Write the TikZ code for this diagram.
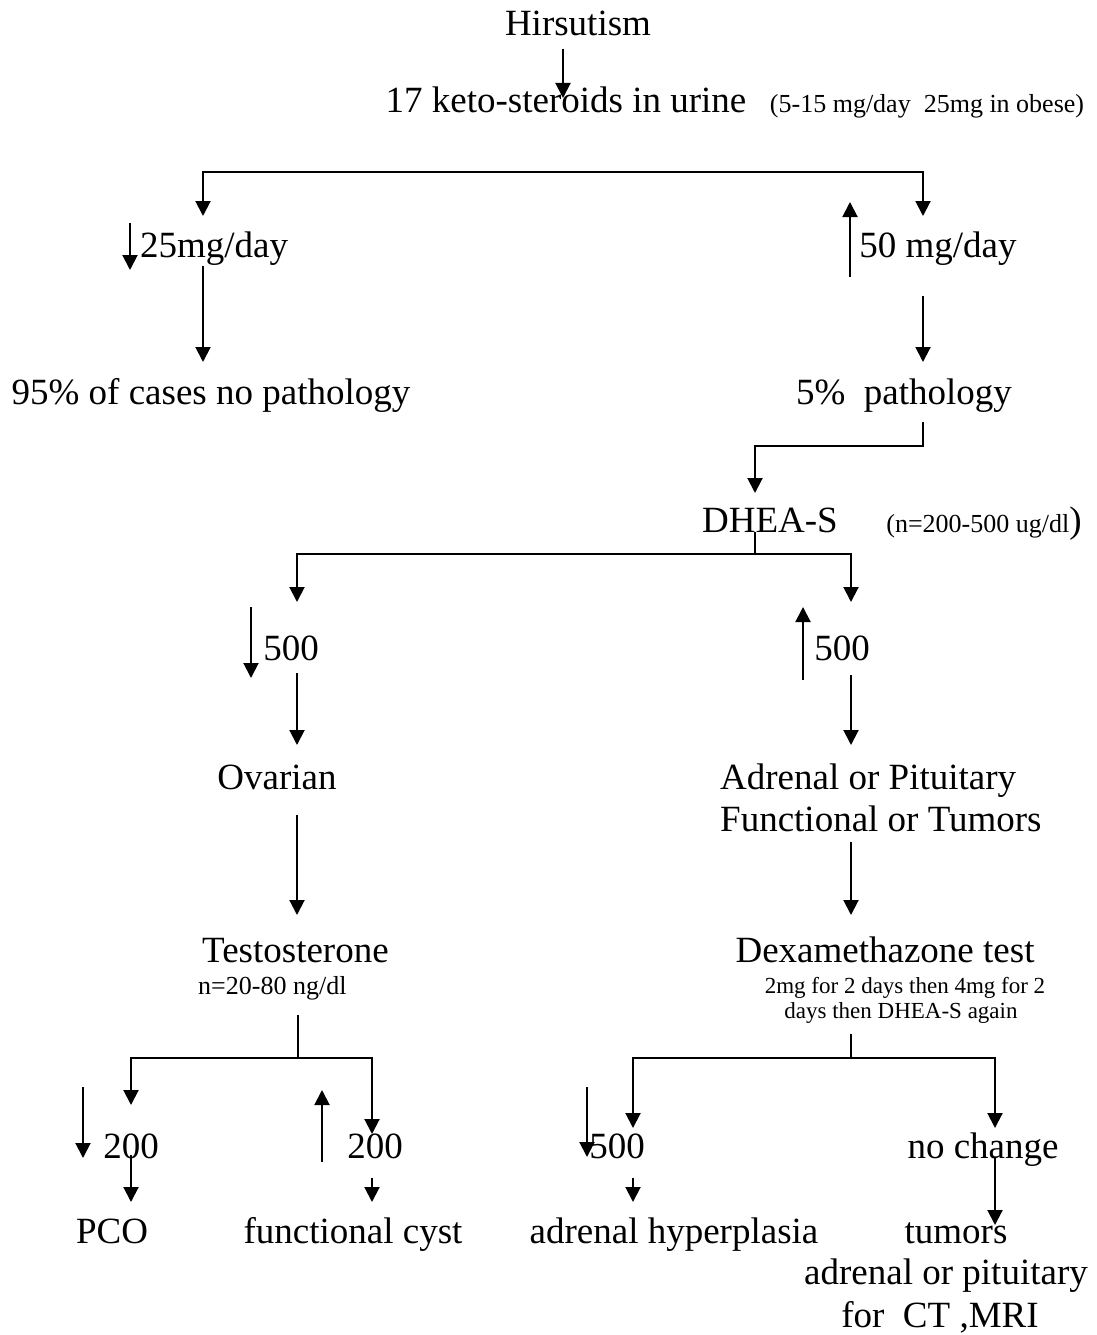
\documentclass[tikz,border=0pt]{standalone}
\usepackage{fontspec}
\setmainfont{Liberation Serif}
\usetikzlibrary{arrows.meta}
\begin{document}
\begin{tikzpicture}[x=1pt,y=-1pt,
  big/.style={font=\fontsize{37}{42}\selectfont, inner sep=0pt, anchor=base},
  small/.style={font=\fontsize{26}{30}\selectfont, inner sep=0pt, anchor=base},
  smaller/.style={font=\fontsize{23}{27}\selectfont, inner sep=0pt, anchor=base},
  ln/.style={line width=2pt},
  arr/.style={line width=2pt, -{Triangle[width=15pt,length=15pt]}},
  barr/.style={line width=2pt, {Triangle[width=15pt,length=15pt]}-{Triangle[width=15pt,length=15pt]}}]
\useasboundingbox (0,0) rectangle (1096,1335);
% texts
\node[big] (hir) at (578,36) {Hirsutism};
\node[big] (k17) at (566,113) {17 keto-steroids in urine};
\node[small] (k17n) at (927,113) {(5-15 mg/day\ \ 25mg in obese)};
\node[big] (lo25) at (214,257) {25mg/day};
\node[big] (hi50) at (938,257) {50 mg/day};
\node[big] (nopath) at (211,404) {95\% of cases no pathology};
\node[big] (path) at (904,404) {5\%\ \ pathology};
\node[big] (dhea) at (770,532) {DHEA-S};
\node[small] (dhean) at (984,532) {(n=200-500 ug/dl{\fontsize{37}{42}\selectfont)}};
\node[big] (lo500) at (291,660) {500};
\node[big] (hi500) at (842,660) {500};
\node[big] (ov) at (277,789) {Ovarian};
\node[big, anchor=base west] (adr1) at (720,789) {Adrenal or Pituitary};
\node[big, anchor=base west] (adr2) at (720,831) {Functional or Tumors};
\node[big, anchor=base west] (test) at (202,962) {Testosterone};
\node[small, anchor=base west] (testn) at (198,994) {n=20-80 ng/dl};
\node[big] (dexa) at (885,962) {Dexamethazone test};
\node[smaller] (dexa2) at (905,993) {2mg for 2 days then 4mg for 2};
\node[smaller] (dexa3) at (901,1018) {days then DHEA-S again};
\node[big] (lo200) at (131,1158) {200};
\node[big] (hi200) at (375,1158) {200};
\node[big] (lo500b) at (617,1158) {500};
\node[big] (noch) at (983,1158) {no change};
\node[big] (pco) at (112,1243) {PCO};
\node[big] (cyst) at (353,1243) {functional cyst};
\node[big] (hyper) at (674,1243) {adrenal hyperplasia};
\node[big] (tum) at (956,1243) {tumors};
\node[big] (tum2) at (946,1284) {adrenal or pituitary};
\node[big] (tum3) at (940,1327) {for\ \ CT ,MRI};
% connector points
\coordinate (h1) at (563,49);   \coordinate (h2) at (563,98);
\coordinate (bl) at (203,216);  \coordinate (br) at (923,216);
\coordinate (d1a) at (130,223); \coordinate (d1b) at (130,270);
\coordinate (u1a) at (850,277); \coordinate (u1b) at (850,202);
\coordinate (l1a) at (203,266); \coordinate (l1b) at (203,362);
\coordinate (r1a) at (923,296); \coordinate (r1b) at (923,362);
\coordinate (p1) at (923,422);  \coordinate (p2) at (755,493);
\coordinate (ds) at (755,532);
\coordinate (dl) at (297,602);  \coordinate (dr) at (851,602);
\coordinate (d2a) at (251,607); \coordinate (d2b) at (251,678);
\coordinate (u2a) at (803,680); \coordinate (u2b) at (803,607);
\coordinate (l2a) at (297,673); \coordinate (l2b) at (297,745);
\coordinate (r2a) at (851,675); \coordinate (r2b) at (851,745);
\coordinate (l3a) at (297,815); \coordinate (l3b) at (297,915);
\coordinate (r3a) at (851,842); \coordinate (r3b) at (851,915);
\coordinate (ts) at (298,1015);
\coordinate (tl) at (131,1105); \coordinate (tr) at (372,1134);
\coordinate (d3a) at (83,1087); \coordinate (d3b) at (83,1158);
\coordinate (l4a) at (131,1155); \coordinate (l4b) at (131,1202);
\coordinate (u3a) at (322,1162); \coordinate (u3b) at (322,1090);
\coordinate (m4a) at (372,1178); \coordinate (m4b) at (372,1202);
\coordinate (xs) at (851,1034);
\coordinate (xl) at (633,1128); \coordinate (xr) at (995,1128);
\coordinate (d4a) at (587,1087); \coordinate (d4b) at (587,1157);
\coordinate (n4a) at (633,1178); \coordinate (n4b) at (633,1202);
\coordinate (r4a) at (995,1158); \coordinate (r4b) at (995,1225);
% connectors
\draw[arr] (h1) -- (h2);
\draw[barr] (bl) -- (203,172) -- (923,172) -- (br);
\draw[arr] (d1a) -- (d1b);
\draw[arr] (u1a) -- (u1b);
\draw[arr] (l1a) -- (l1b);
\draw[arr] (r1a) -- (r1b);
\draw[arr] (p1) -- (923,446) -- (755,446) -- (p2);
\draw[ln] (ds) -- (755,554);
\draw[barr] (dl) -- (297,554) -- (851,554) -- (dr);
\draw[arr] (d2a) -- (d2b);
\draw[arr] (u2a) -- (u2b);
\draw[arr] (l2a) -- (l2b);
\draw[arr] (r2a) -- (r2b);
\draw[arr] (l3a) -- (l3b);
\draw[arr] (r3a) -- (r3b);
\draw[ln] (ts) -- (298,1058);
\draw[barr] (tl) -- (131,1058) -- (372,1058) -- (tr);
\draw[arr] (d3a) -- (d3b);
\draw[arr] (l4a) -- (l4b);
\draw[arr] (u3a) -- (u3b);
\draw[arr] (m4a) -- (m4b);
\draw[ln] (xs) -- (851,1058);
\draw[barr] (xl) -- (633,1058) -- (995,1058) -- (xr);
\draw[arr] (d4a) -- (d4b);
\draw[arr] (n4a) -- (n4b);
\draw[arr] (r4a) -- (r4b);
\end{tikzpicture}
\end{document}
